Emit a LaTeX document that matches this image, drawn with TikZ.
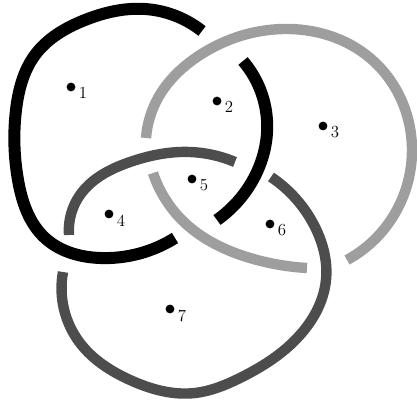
\documentclass[tikz,border=0pt]{standalone}
\usepackage{tikz}
\usetikzlibrary{positioning,hobby}
\definecolor{ringlight}{RGB}{158,158,158}
\definecolor{ringdark}{RGB}{77,77,77}

\begin{document}
\begin{tikzpicture}[
  x=0.025cm, y=-0.025cm,
  every node/.style={font=\large},
  blackring/.style={draw=black, line width=0.30cm, use Hobby shortcut},
  lightring/.style={draw=ringlight, line width=0.26cm, use Hobby shortcut},
  darkring/.style={draw=ringdark, line width=0.26cm, use Hobby shortcut},
  spot/.style={circle, fill=black, inner sep=0pt, minimum size=0.22cm,
               label={[inner sep=0pt, xshift=3pt, yshift=2pt]below right:#1}},
]
\useasboundingbox (0,0) rectangle (417,406);

%% Black ring (two pieces, broken where the grey rings cross over)
\draw[blackring] (202,31) .. (145,9) .. (85,20) .. (35,55) .. (16,110)
  .. (18,180) .. (45,238) .. (100,258) .. (175,238);
\draw[blackring] (243,61) .. (267,120) .. (250,185) .. (217,220);

%% Light grey ring
\draw[lightring] (146,138) .. (158,98) .. (200,55) .. (283,29) .. (370,58)
  .. (412,150) .. (385,228) .. (347,260);
\draw[lightring] (153,173) .. (185,223) .. (250,258) .. (307,268);

%% Dark grey ring
\draw[darkring] (69,235) .. (80,195) .. (130,162) .. (190,152) .. (235,162);
\draw[darkring] (271,177) .. (315,227) .. (326,280) .. (300,335)
  .. (240,378) .. (195,393) .. (130,380) .. (80,343) .. (63,272);

%% Region markers
\foreach \n/\px/\py in {1/71/87, 2/217/101, 3/323/126, 4/109/214,
                        5/192/179, 6/270/224, 7/170/309}{
  \node[spot=\n] (s\n) at (\px,\py) {};
}

\end{tikzpicture}
\end{document}
